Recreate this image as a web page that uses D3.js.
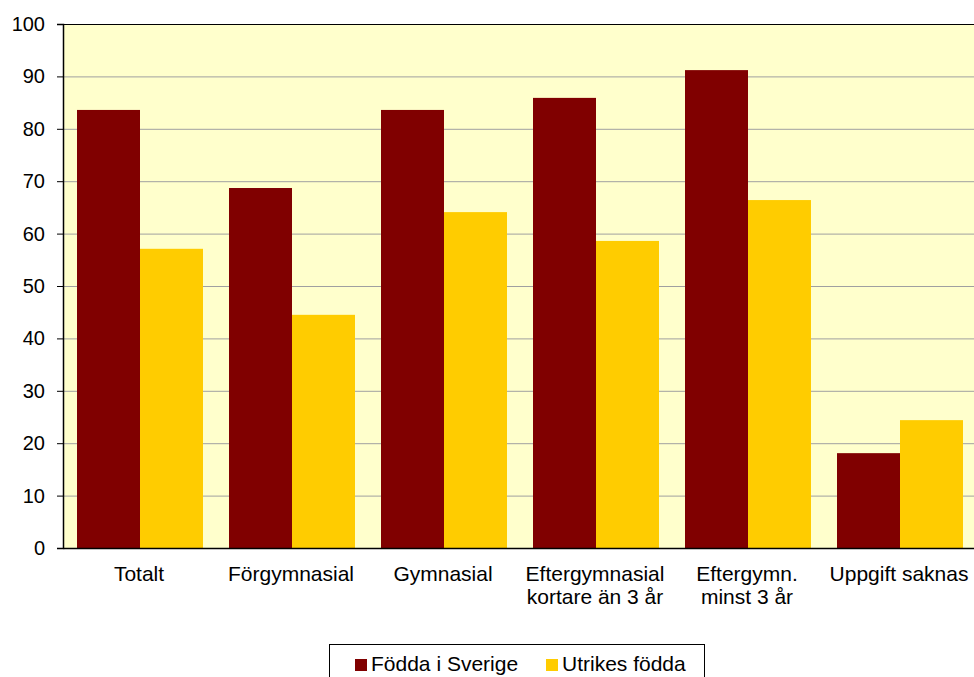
<!DOCTYPE html>
<html>
<head>
<meta charset="utf-8">
<script src="https://cdn.jsdelivr.net/npm/d3@7"></script>
<style>
  body { margin: 0; background: #fff; }
  svg { display: block; font-family: Arial, "Liberation Sans", sans-serif; }
</style>
</head>
<body>
<svg id="chart" width="974" height="677"></svg>
<script>
// categories and values
const categories = ["Totalt", "Förgymnasial", "Gymnasial", "Eftergymnasial\nkortare än 3 år", "Eftergymn.\nminst 3 år", "Uppgift saknas"];
const seriesNames = ["Födda i Sverige", "Utrikes födda"];
const foddaSverige = [83.6, 68.7, 83.6, 85.9, 91.2, 18.1];
const utrikesFodda = [57.1, 44.5, 64.1, 58.6, 66.4, 24.4];
const yTicks = [0, 10, 20, 30, 40, 50, 60, 70, 80, 90, 100];
const colors = ["#800000", "#FFCC00"];

const svg = d3.select("#chart");
const margin = {top: 24, right: -1, bottom: 129, left: 63};
const width = 974 - margin.left - margin.right;
const height = 677 - margin.top - margin.bottom;
const fontFam = "Arial, 'Liberation Sans', sans-serif";

const g = svg.append("g")
  .attr("transform", "translate(" + margin.left + "," + margin.top + ")");

const x = d3.scaleBand()
  .domain(categories)
  .range([0, width])
  .paddingInner(0)
  .paddingOuter(0);

const inner = d3.scaleBand()
  .domain(seriesNames)
  .range([14, x.bandwidth() - 12]);

const y = d3.scaleLinear()
  .domain([0, 100])
  .range([height, 0]);

// plot background
g.append("rect")
  .attr("width", width)
  .attr("height", height)
  .attr("fill", "#FFFFCC");

// gridlines
g.selectAll(".grid")
  .data(yTicks.filter(d => d > 0 && d < 100))
  .enter().append("line")
  .attr("x1", 0)
  .attr("x2", width)
  .attr("y1", d => y(d) + 0.5)
  .attr("y2", d => y(d) + 0.5)
  .attr("stroke", "#A0A0A0")
  .attr("stroke-width", 1);

// top border
g.append("line")
  .attr("x1", 0).attr("x2", width)
  .attr("y1", 0.5).attr("y2", 0.5)
  .attr("stroke", "#000");

// bars
const rows = categories.map((c, i) => ({cat: c, vals: [foddaSverige[i], utrikesFodda[i]]}));
const grp = g.selectAll(".grp")
  .data(rows)
  .enter().append("g")
  .attr("transform", d => "translate(" + x(d.cat) + ",0)");

grp.selectAll("rect")
  .data(d => d.vals.map((v, j) => ({name: seriesNames[j], v: v, j: j})))
  .enter().append("rect")
  .attr("x", d => inner(d.name))
  .attr("y", d => y(d.v))
  .attr("width", inner.bandwidth())
  .attr("height", d => height - y(d.v))
  .attr("fill", d => colors[d.j]);

// y axis
const yAxis = g.append("g")
  .call(d3.axisLeft(y).tickValues(yTicks).tickSize(6).tickPadding(12));
yAxis.select(".domain").attr("stroke", "#000").attr("stroke-width", 1.5);
yAxis.selectAll(".tick line").attr("stroke", "#000");
yAxis.selectAll("text")
  .attr("font-size", 20)
  .attr("fill", "#000")
  .attr("font-family", fontFam);

// x axis
const xAxis = g.append("g")
  .attr("transform", "translate(0," + height + ")")
  .call(d3.axisBottom(x).tickSize(0).tickFormat(""));
xAxis.select(".domain").attr("stroke", "#000").attr("stroke-width", 1.5);

xAxis.selectAll(".tick").each(function(d) {
  const lines = d.split("\n");
  const t = d3.select(this).append("text")
    .attr("fill", "#000")
    .attr("font-size", 21)
    .attr("font-family", fontFam)
    .attr("text-anchor", "middle");
  lines.forEach((ln, i) => {
    t.append("tspan").attr("x", 0).attr("y", 33 + i * 23).text(ln);
  });
});

// legend
const legend = svg.append("g").attr("transform", "translate(329,644)");
legend.append("rect")
  .attr("x", 0.5).attr("y", 0.5)
  .attr("width", 375).attr("height", 40)
  .attr("fill", "#fff")
  .attr("stroke", "#000");

const legendX = [26, 217];
seriesNames.forEach((name, i) => {
  const item = legend.append("g").attr("transform", "translate(" + legendX[i] + ",0)");
  item.append("rect")
    .attr("x", 0).attr("y", 15)
    .attr("width", 12).attr("height", 12)
    .attr("fill", colors[i]);
  item.append("text")
    .attr("x", 16).attr("y", 27)
    .attr("font-size", 21)
    .attr("font-family", fontFam)
    .attr("fill", "#000")
    .text(name);
});
</script>
</body>
</html>
